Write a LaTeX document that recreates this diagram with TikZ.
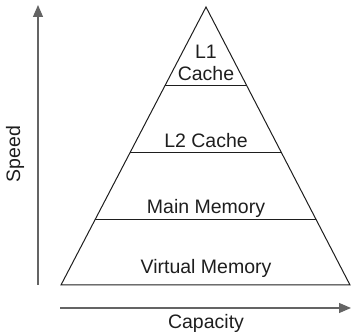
\documentclass[tikz,border=0pt]{standalone}
\usepackage{fontspec}
\setmainfont{Liberation Sans}
\usetikzlibrary{arrows.meta,positioning,calc}

\begin{document}
\begin{tikzpicture}[x=1pt,y=1pt,font=\fontsize{19.5}{21}\selectfont]
  \definecolor{ink}{RGB}{30,30,30}
  \definecolor{axis}{RGB}{100,100,100}
  \tikzset{
    level/.style={ink, line width=1pt},
    axisarrow/.style={axis, line width=1.2pt, -{Triangle[length=12pt,width=10pt]}, shorten >=-1pt},
    tag/.style={ink, inner sep=0pt}
  }
  \useasboundingbox (0,0) rectangle (351,332);

  % pyramid
  \coordinate (apex) at (206,325);
  \coordinate (bl) at (61,47);
  \coordinate (br) at (350,47);
  \draw[level, line join=miter] (apex) -- (bl) -- (br) -- cycle;

  % dividers
  \foreach \name/\t in {one/0.281,two/0.522,three/0.763} {
    \coordinate (\name l) at ($(apex)!\t!(bl)$);
    \coordinate (\name r) at ($(apex)!\t!(br)$);
    \draw[level] (\name l) -- (\name r);
  }

  % labels
  \node[tag] (lone) at (206,280) {L1};
  \node[tag] (cache) at (206,258) {Cache};
  \node[tag] (ltwo) at (206,191) {L2 Cache};
  \node[tag] (main) at (206,124) {Main Memory};
  \node[tag] (virt) at (206,64) {Virtual Memory};

  % axes
  \coordinate (sbot) at (38,47);
  \coordinate (stop) at (38,326);
  \draw[axisarrow] (sbot) -- (stop);
  \node[tag, rotate=90] (speed) at (15,178) {Speed};

  \coordinate (cleft) at (60,24);
  \coordinate (cright) at (350,24);
  \draw[axisarrow] (cleft) -- (cright);
  \node[tag] (capacity) at (206,9) {Capacity};
\end{tikzpicture}
\end{document}
